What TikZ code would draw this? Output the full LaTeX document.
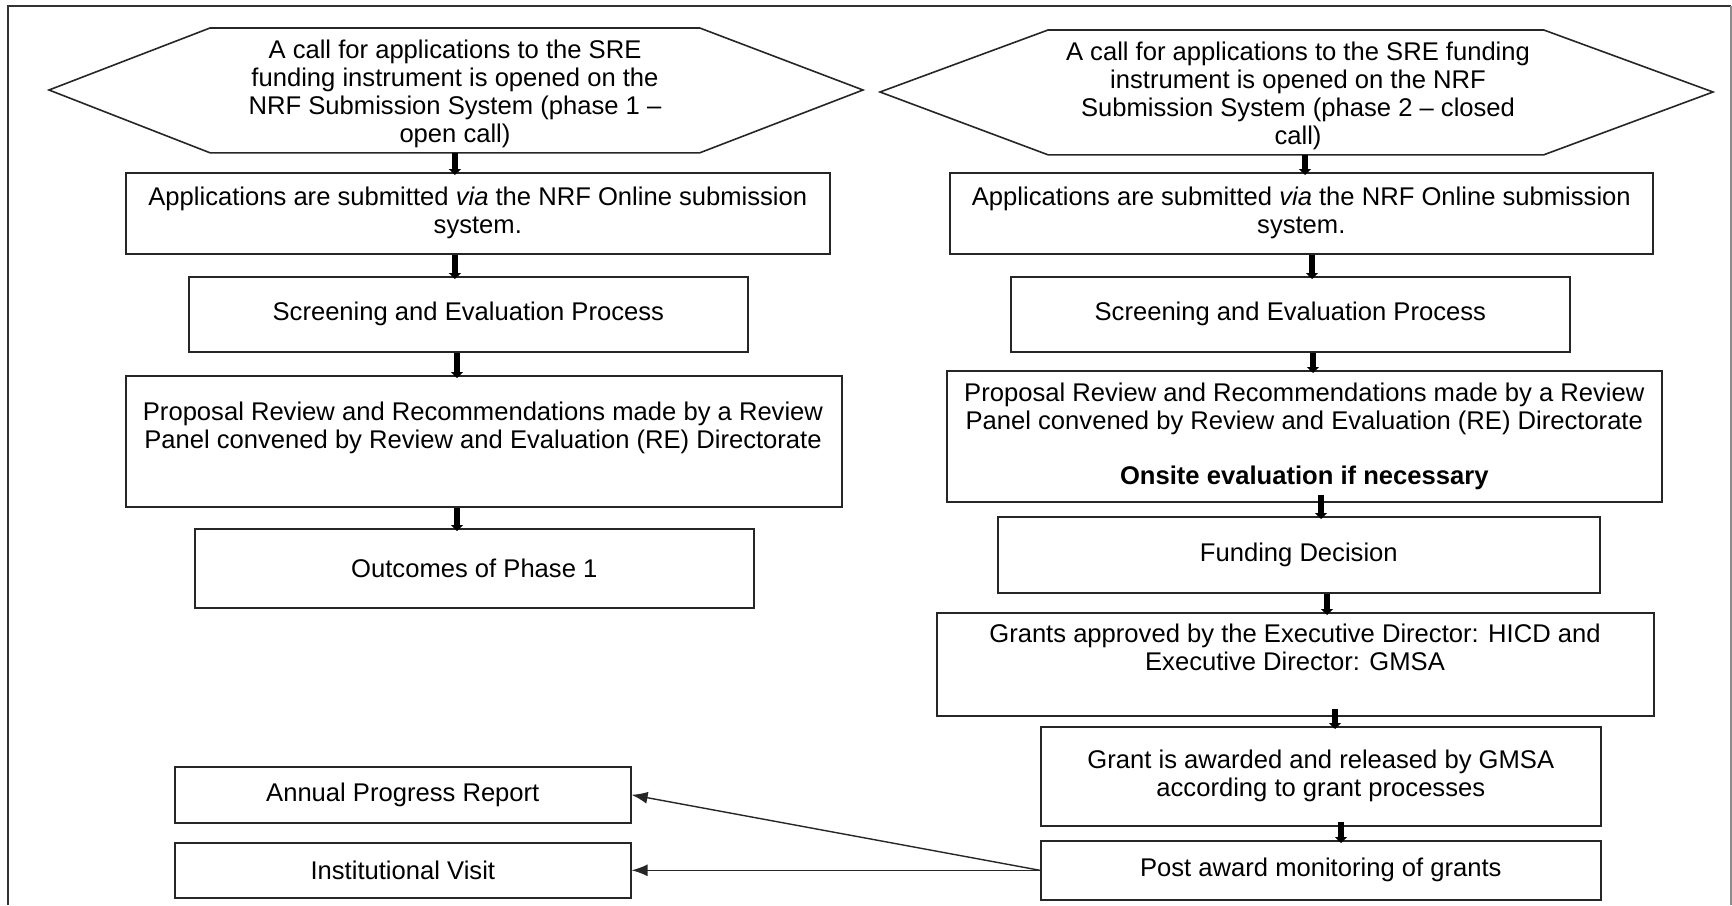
\documentclass[tikz,border=0pt]{standalone}
\usepackage{fontspec}
\setmainfont{Liberation Sans}
\usetikzlibrary{arrows.meta,calc}
\begin{document}
\begin{tikzpicture}[x=0.5pt,y=-0.5pt,
  txtfont/.style={font=\fontsize{12.8pt}{14pt}\selectfont},
  box/.style={draw=black!85, line width=0.8pt, rectangle, inner sep=0pt, anchor=north west, align=center, txtfont},
  hexnode/.style={rectangle, inner sep=0pt, anchor=north west, align=center, txtfont},
  hexline/.style={draw=black!85, line width=0.8pt, line join=miter},
  plain/.style={inner sep=0pt, align=center, txtfont},
  varr/.style={line width=2.6pt, black, -{Triangle[width=6pt,length=3pt]}, shorten >=-1.5pt},
  darr/.style={line width=0.7pt, black!85, -{Latex[length=8pt,width=6pt]}}
]
\useasboundingbox (0,0) rectangle (1732,905);
% outer frame
\draw[line width=1pt, black!80] (8,905) -- (8,6) -- (1731,6);
\draw[line width=0.6pt, black!45] (1731,6) -- (1731,905);

% ---------- left column ----------
\node[hexnode, minimum width=244.5pt, minimum height=62pt] (H1) at (210,28) {};
\node[plain] (H1t) at (455,94)
  {A call for applications to the SRE\\funding instrument is opened on the\\NRF Submission System (phase 1 –\\open call)};
\draw[hexline] (H1.north west) -- (H1.north east) -- (863,90) -- (H1.south east) -- (H1.south west) -- (49,90) -- cycle;

\node[box, minimum width=352pt, minimum height=40.5pt] (L2) at (125,172)
  {Applications are submitted \textit{via} the NRF Online submission\\system.};
\node[box, minimum width=279.5pt, minimum height=37.5pt] (L3) at (188,276)
  {Screening and Evaluation Process};
\node[box, minimum width=358pt, minimum height=65.5pt] (L4) at (125,375) {};
\node[plain] (L4t) at (483,428)
  {Proposal Review and Recommendations made by a Review\\Panel convened by Review and Evaluation (RE) Directorate};
\node[box, minimum width=279.5pt, minimum height=39.5pt] (L5) at (194,528)
  {Outcomes of Phase 1};

\draw[varr] (H1.south) -- (L2.north -| H1.south);
\draw[varr] (L2.south -| H1.south) -- (L3.north -| H1.south);
\draw[varr] (L3.south -| 457,0) -- (L4.north -| 457,0);
\draw[varr] (L4.south -| 457,0) -- (L5.north -| 457,0);

% ---------- right column ----------
\node[hexnode, minimum width=247.5pt, minimum height=62pt] (H2) at (1048,30) {};
\node[plain] (H2t) at (1298,96)
  {A call for applications to the SRE funding\\instrument is opened on the NRF\\Submission System (phase 2 – closed\\call)};
\draw[hexline] (H2.north west) -- (H2.north east) -- (1713,92) -- (H2.south east) -- (H2.south west) -- (880,92) -- cycle;

\node[box, minimum width=351.5pt, minimum height=40.5pt] (R2) at (949,172)
  {Applications are submitted \textit{via} the NRF Online submission\\system.};
\node[box, minimum width=279.5pt, minimum height=37.5pt] (R3) at (1010,276)
  {Screening and Evaluation Process};
\node[box, minimum width=357.5pt, minimum height=65.5pt] (R4) at (946,370)
  {Proposal Review and Recommendations made by a Review\\Panel convened by Review and Evaluation (RE) Directorate\\[13.5pt]\textbf{Onsite evaluation if necessary}};
\node[box, minimum width=301pt, minimum height=38pt] (R5) at (997,516)
  {Funding Decision};
\node[box, minimum width=358.5pt, minimum height=51.5pt] (R6) at (936,612) {};
\node[plain] (R6t) at (1295,647)
  {Grants approved by the Executive Director: HICD and\\Executive Director: GMSA};
\node[box, minimum width=280pt, minimum height=49.5pt] (R7) at (1040,726)
  {Grant is awarded and released by GMSA\\according to grant processes};
\node[box, minimum width=280pt, minimum height=29.5pt] (R8) at (1040,840)
  {Post award monitoring of grants};

\draw[varr] (H2.south -| 1305,0) -- (R2.north -| 1305,0);
\draw[varr] (R2.south -| 1312,0) -- (R3.north -| 1312,0);
\draw[varr] (R3.south -| 1313,0) -- (R4.north -| 1313,0);
\draw[varr, shorten <=-4pt] (R4.south -| 1321,0) -- (R5.north -| 1321,0);
\draw[varr] (R5.south -| 1327,0) -- (R6.north -| 1327,0);
\draw[varr, shorten <=-4pt] (R6.south -| 1335,0) -- (R7.north -| 1335,0);
\draw[varr, shorten <=-2.5pt] (R7.south -| 1341,0) -- (R8.north -| 1341,0);

% ---------- monitoring ----------
\node[box, minimum width=228pt, minimum height=28pt] (A) at (174,766)
  {Annual Progress Report};
\node[box, minimum width=228pt, minimum height=27.5pt] (B) at (174,842)
  {Institutional Visit};
\draw[darr] (R8.west) -- (A.east);
\draw[darr] (R8.west) -- (B.east);
\end{tikzpicture}
\end{document}
